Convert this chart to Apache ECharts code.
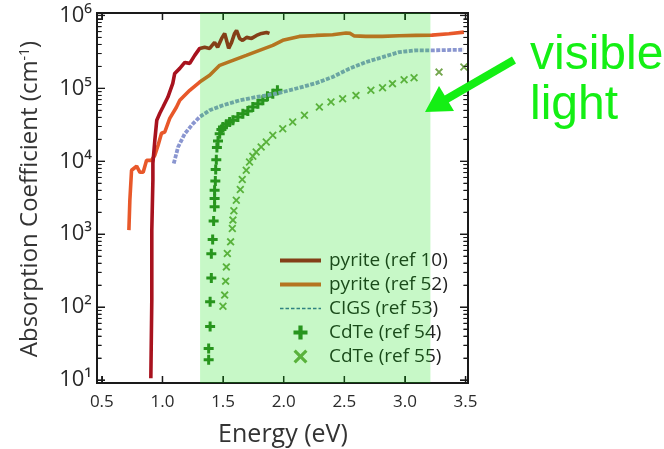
<!DOCTYPE html>
<html>
<head>
<meta charset="utf-8">
<script src="https://cdn.jsdelivr.net/npm/echarts@6/dist/echarts.min.js"></script>
<style>
  html, body { margin: 0; padding: 0; background: #ffffff; }
  #chart { width: 664px; height: 449px; }
</style>
</head>
<body>
<div id="chart"></div>
<script>
// Absorption coefficient vs photon energy for several absorber materials

const seriesNames = ['pyrite (ref 10)', 'pyrite (ref 52)', 'CIGS (ref 53)', 'CdTe (ref 54)', 'CdTe (ref 55)'];

// pyrite (ref 10)
const pyrite10Energy = [0.904, 0.912, 0.912, 0.921, 0.921, 0.937, 0.953, 0.978, 1.003, 1.044, 1.085, 1.101, 1.143, 1.184, 1.225, 1.266, 1.307, 1.348, 1.389, 1.430, 1.455, 1.488, 1.513, 1.529, 1.546, 1.570, 1.595, 1.611, 1.636, 1.661, 1.694, 1.735, 1.776, 1.817, 1.858, 1.883];
const pyrite10Alpha = [10.6, 125, 1135, 5500, 9400, 19400, 36500, 45500, 55000, 75400, 117000, 160000, 188000, 227000, 220000, 283000, 353000, 365000, 353000, 427000, 365000, 484000, 567000, 454000, 353000, 427000, 567000, 623000, 484000, 454000, 500000, 484000, 532000, 567000, 585000, 567000];

// pyrite (ref 52)
const pyrite52Energy = [0.723, 0.731, 0.745, 0.759, 0.787, 0.814, 0.841, 0.869, 0.910, 0.937, 0.964, 0.992, 1.019, 1.060, 1.115, 1.143, 1.225, 1.307, 1.389, 1.472, 1.581, 1.691, 1.800, 1.910, 1.992, 2.129, 2.267, 2.403, 2.514, 2.527, 2.549, 2.582, 2.678, 2.812, 2.952, 3.089, 3.223, 3.363, 3.486];
const pyrite52Alpha = [1135, 2920, 7530, 8020, 8550, 7060, 7060, 10300, 10300, 12100, 16600, 24200, 25200, 38800, 55000, 68500, 94000, 122000, 151000, 207000, 242000, 283000, 332000, 388000, 455000, 516000, 532000, 544000, 573000, 604000, 567000, 524000, 516000, 516000, 527000, 532000, 537000, 561000, 590000];

// CIGS (ref 53)
const cigsEnergy = [1.093, 1.129, 1.184, 1.252, 1.307, 1.389, 1.499, 1.636, 1.773, 1.938, 2.129, 2.267, 2.403, 2.541, 2.678, 2.815, 2.952, 3.089, 3.226, 3.486];
const cigsAlpha = [9300, 15700, 23900, 32800, 40500, 50000, 58500, 68500, 76000, 84600, 102000, 118000, 143000, 186000, 229000, 268000, 314000, 332000, 332000, 339000];

// CdTe (ref 54)
const cdte54Energy = [1.381, 1.381, 1.393, 1.393, 1.403, 1.403, 1.414, 1.422, 1.430, 1.430, 1.430, 1.436, 1.439, 1.444, 1.449, 1.458, 1.472, 1.486, 1.499, 1.527, 1.554, 1.581, 1.622, 1.663, 1.704, 1.745, 1.787, 1.828, 1.866, 1.910, 1.948];
const cdte54Alpha = [19, 27, 54, 118, 251, 537, 845, 1520, 2380, 3080, 4010, 5370, 7690, 10500, 15400, 19000, 23900, 27200, 29500, 32100, 34500, 36400, 40500, 45000, 48800, 55400, 61700, 68500, 77700, 84600, 94000];

// CdTe (ref 55)
const cdte55Energy = [1.499, 1.513, 1.521, 1.527, 1.535, 1.562, 1.576, 1.581, 1.589, 1.609, 1.642, 1.658, 1.691, 1.718, 1.745, 1.773, 1.814, 1.856, 1.910, 1.992, 2.074, 2.171, 2.294, 2.390, 2.486, 2.596, 2.719, 2.815, 2.897, 2.993, 3.075, 3.281, 3.486];
const cdte55Alpha = [103, 146, 227, 356, 544, 785, 1200, 1560, 2090, 2920, 4100, 5610, 7530, 9780, 11700, 13400, 15700, 18400, 22700, 28000, 34500, 42700, 55400, 64900, 72100, 80100, 94000, 102000, 116000, 131000, 140000, 167000, 196000];

// visible-light energy band (eV)
const visibleBand = [1.31, 3.21];

// axis ticks
const energyTicks = [0.5, 1.0, 1.5, 2.0, 2.5, 3.0, 3.5];
const alphaMajorTicks = [10, 100, 1000, 10000, 100000, 1000000];
const alphaMinorTicks = [];
for (const decade of [10, 100, 1000, 10000, 100000]) {
  for (const k of [2, 3, 4, 5, 6, 7, 8, 9]) alphaMinorTicks.push(k * decade);
}
const SUPERSCRIPT_DIGITS = ['\u2070', '\u00B9', '\u00B2', '\u00B3', '\u2074', '\u2075', '\u2076', '\u2077', '\u2078', '\u2079'];

const zip = (xs, ys) => xs.map((x, i) => [x, ys[i]]);

const FONT = '"Open Sans", "DejaVu Sans", sans-serif';
const AXIS_COLOR = '#1a1a1a';
const LABEL_COLOR = '#2a2a2a';
const X_RANGE = { min: 0.46, max: 3.52 };
const Y_RANGE = { min: 9.1, max: 1.08e6 };
const GRID = { left: 97, top: 13, width: 371, height: 370 };

const plusPath = 'path://M3.5,0H6.5V3.5H10V6.5H6.5V10H3.5V6.5H0V3.5H3.5Z';
const crossPath = 'path://M0,1.6L1.6,0L5,3.4L8.4,0L10,1.6L6.6,5L10,8.4L8.4,10L5,6.6L1.6,10L0,8.4L3.4,5Z';
const solidLegendPath = 'path://M0,0H41V4H0Z';
const dashedLegendPath = 'path://M0,0H3.5V1.6H0Z M5.5,0H9V1.6H5.5Z M11,0H14.5V1.6H11Z M16.5,0H20V1.6H16.5Z M22,0H25.5V1.6H22Z M27.5,0H31V1.6H27.5Z M33,0H36.5V1.6H33Z M38.5,0H41V1.6H38.5Z';
const GREEN_TEXT = '#14ef14';

function logAxis(position, ticks, tickLen, withLine, withLabels) {
  return {
    type: 'log',
    position: position,
    min: Y_RANGE.min,
    max: Y_RANGE.max,
    logBase: 10,
    splitLine: { show: false },
    axisLine: { show: withLine, onZero: false, lineStyle: { color: AXIS_COLOR, width: 2 } },
    axisTick: { show: true, inside: true, length: tickLen, customValues: ticks },
    axisLabel: withLabels ? {
      show: true,
      customValues: alphaMajorTicks,
      margin: 5,
      fontFamily: FONT, fontSize: 22, color: LABEL_COLOR,
      formatter: function (v) {
        return '10' + SUPERSCRIPT_DIGITS[Math.round(Math.log10(v))];
      }
    } : { show: false }
  };
}

function energyAxis(position, withLabels) {
  return {
    type: 'value', position: position,
    min: X_RANGE.min, max: X_RANGE.max,
    splitLine: { show: false },
    axisLine: { show: true, onZero: false, lineStyle: { color: AXIS_COLOR, width: 2 } },
    axisTick: { show: true, inside: true, length: 7, customValues: energyTicks },
    axisLabel: withLabels ? {
      customValues: energyTicks, margin: 11, fontFamily: FONT, fontSize: 17, color: LABEL_COLOR,
      formatter: v => v.toFixed(1)
    } : { show: false }
  };
}

const chart = echarts.init(document.getElementById('chart'), null, { renderer: 'canvas' });

chart.setOption({
  animation: false,
  grid: Object.assign({ show: false }, GRID),
  xAxis: [energyAxis('bottom', true), energyAxis('top', false)],
  yAxis: [
    logAxis('left', alphaMajorTicks, 8, true, true),
    logAxis('left', alphaMinorTicks, 4.5, false, false),
    logAxis('right', alphaMajorTicks, 8, true, false),
    logAxis('right', alphaMinorTicks, 4.5, false, false)
  ],
  legend: {
    left: 275, top: 246,
    orient: 'vertical',
    itemWidth: 41, itemHeight: 14, itemGap: 5,
    textStyle: { fontFamily: FONT, fontSize: 19, color: '#222', padding: [0, 0, 0, 3] },
    data: [
      { name: seriesNames[0], icon: solidLegendPath },
      { name: seriesNames[1], icon: solidLegendPath },
      { name: seriesNames[2], icon: dashedLegendPath, itemStyle: { color: '#3f68a6' } },
      { name: seriesNames[3] },
      { name: seriesNames[4] }
    ]
  },
  series: [
    {
      name: seriesNames[1], type: 'line',
      data: zip(pyrite52Energy, pyrite52Alpha),
      symbol: 'none',
      lineStyle: { color: '#e8582a', width: 3.6 },
      itemStyle: { color: '#e8582a' },
      markArea: {
        z: 10, silent: true,
        itemStyle: { color: 'rgba(0, 225, 0, 0.22)' },
        data: [[{ xAxis: visibleBand[0] }, { xAxis: visibleBand[1] }]]
      }
    },
    {
      name: seriesNames[0], type: 'line',
      data: zip(pyrite10Energy, pyrite10Alpha),
      symbol: 'none',
      lineStyle: { color: '#a8121e', width: 3.6 },
      itemStyle: { color: '#a8121e' }
    },
    {
      name: seriesNames[2], type: 'line',
      data: zip(cigsEnergy, cigsAlpha),
      symbol: 'none',
      lineStyle: { color: '#8a96d0', width: 3.8, type: [4, 1.5] },
      itemStyle: { color: '#8a96d0' }
    },
    {
      name: seriesNames[3], type: 'scatter',
      data: zip(cdte54Energy, cdte54Alpha),
      symbol: plusPath, symbolSize: 10,
      itemStyle: { color: '#338026', opacity: 1 }
    },
    {
      name: seriesNames[4], type: 'scatter',
      data: zip(cdte55Energy, cdte55Alpha),
      symbol: crossPath, symbolSize: 8,
      itemStyle: { color: '#73a64d', opacity: 1 }
    }
  ]
});

// Plot frame and mirrored ticks, placed through the chart's own axis scales
const px = v => chart.convertToPixel({ xAxisIndex: 0 }, v);
const py = v => chart.convertToPixel({ yAxisIndex: 0 }, v);
const xL = px(X_RANGE.min), xR = px(X_RANGE.max);
const yT = py(Y_RANGE.max), yB = py(Y_RANGE.min);

const frameParts = [];
const tick = (x1, y1, x2, y2, w) => frameParts.push({
  type: 'line', silent: true, z: 5,
  shape: { x1: x1, y1: y1, x2: x2, y2: y2 },
  style: { stroke: AXIS_COLOR, lineWidth: w }
});
frameParts.push({
  type: 'rect', silent: true, z: 5,
  shape: { x: xL, y: yT, width: xR - xL, height: yB - yT },
  style: { fill: 'none', stroke: AXIS_COLOR, lineWidth: 2 }
});
for (const e of energyTicks) {
  const x = px(e);
  tick(x, yB, x, yB - 7, 1.5);
  tick(x, yT, x, yT + 7, 1.5);
}
for (const a of alphaMajorTicks) {
  const y = py(a);
  tick(xL, y, xL + 8, y, 1.3);
  tick(xR, y, xR - 8, y, 1.3);
}
for (const a of alphaMinorTicks) {
  const y = py(a);
  tick(xL, y, xL + 4.5, y, 1);
  tick(xR, y, xR - 4.5, y, 1);
}

chart.setOption({
  graphic: frameParts.concat([
    // axis titles
    {
      type: 'text', x: 30, y: 199, rotation: Math.PI / 2,
      style: {
        text: 'Absorption Coefficient (cm{s|-1})',
        fontFamily: FONT, fontSize: 24, fill: '#333',
        align: 'center', verticalAlign: 'middle',
        rich: { s: { fontFamily: FONT, fontSize: 14, fill: '#333', lineHeight: 14, verticalAlign: 'top' } }
      }
    },
    {
      type: 'text', x: 283, y: 435,
      style: { text: 'Energy (eV)', fontFamily: FONT, fontSize: 25, fill: '#333', align: 'center', verticalAlign: 'middle' }
    },
    // "visible light" callout
    {
      type: 'text', left: 530, top: 32, z: 20,
      style: { text: 'visible', fontFamily: '"Liberation Sans", Arial, sans-serif', fontSize: 48, fill: GREEN_TEXT }
    },
    {
      type: 'text', left: 530, top: 82, z: 20,
      style: { text: 'light', fontFamily: '"Liberation Sans", Arial, sans-serif', fontSize: 48, fill: GREEN_TEXT }
    },
    {
      type: 'line', z: 20,
      shape: { x1: 514, y1: 60, x2: 445, y2: 100 },
      style: { stroke: GREEN_TEXT, lineWidth: 8 }
    },
    {
      type: 'polygon', z: 20,
      shape: { points: [[425, 112], [454, 111], [439, 86]] },
      style: { fill: GREEN_TEXT }
    }
  ])
});
</script>
</body>
</html>
